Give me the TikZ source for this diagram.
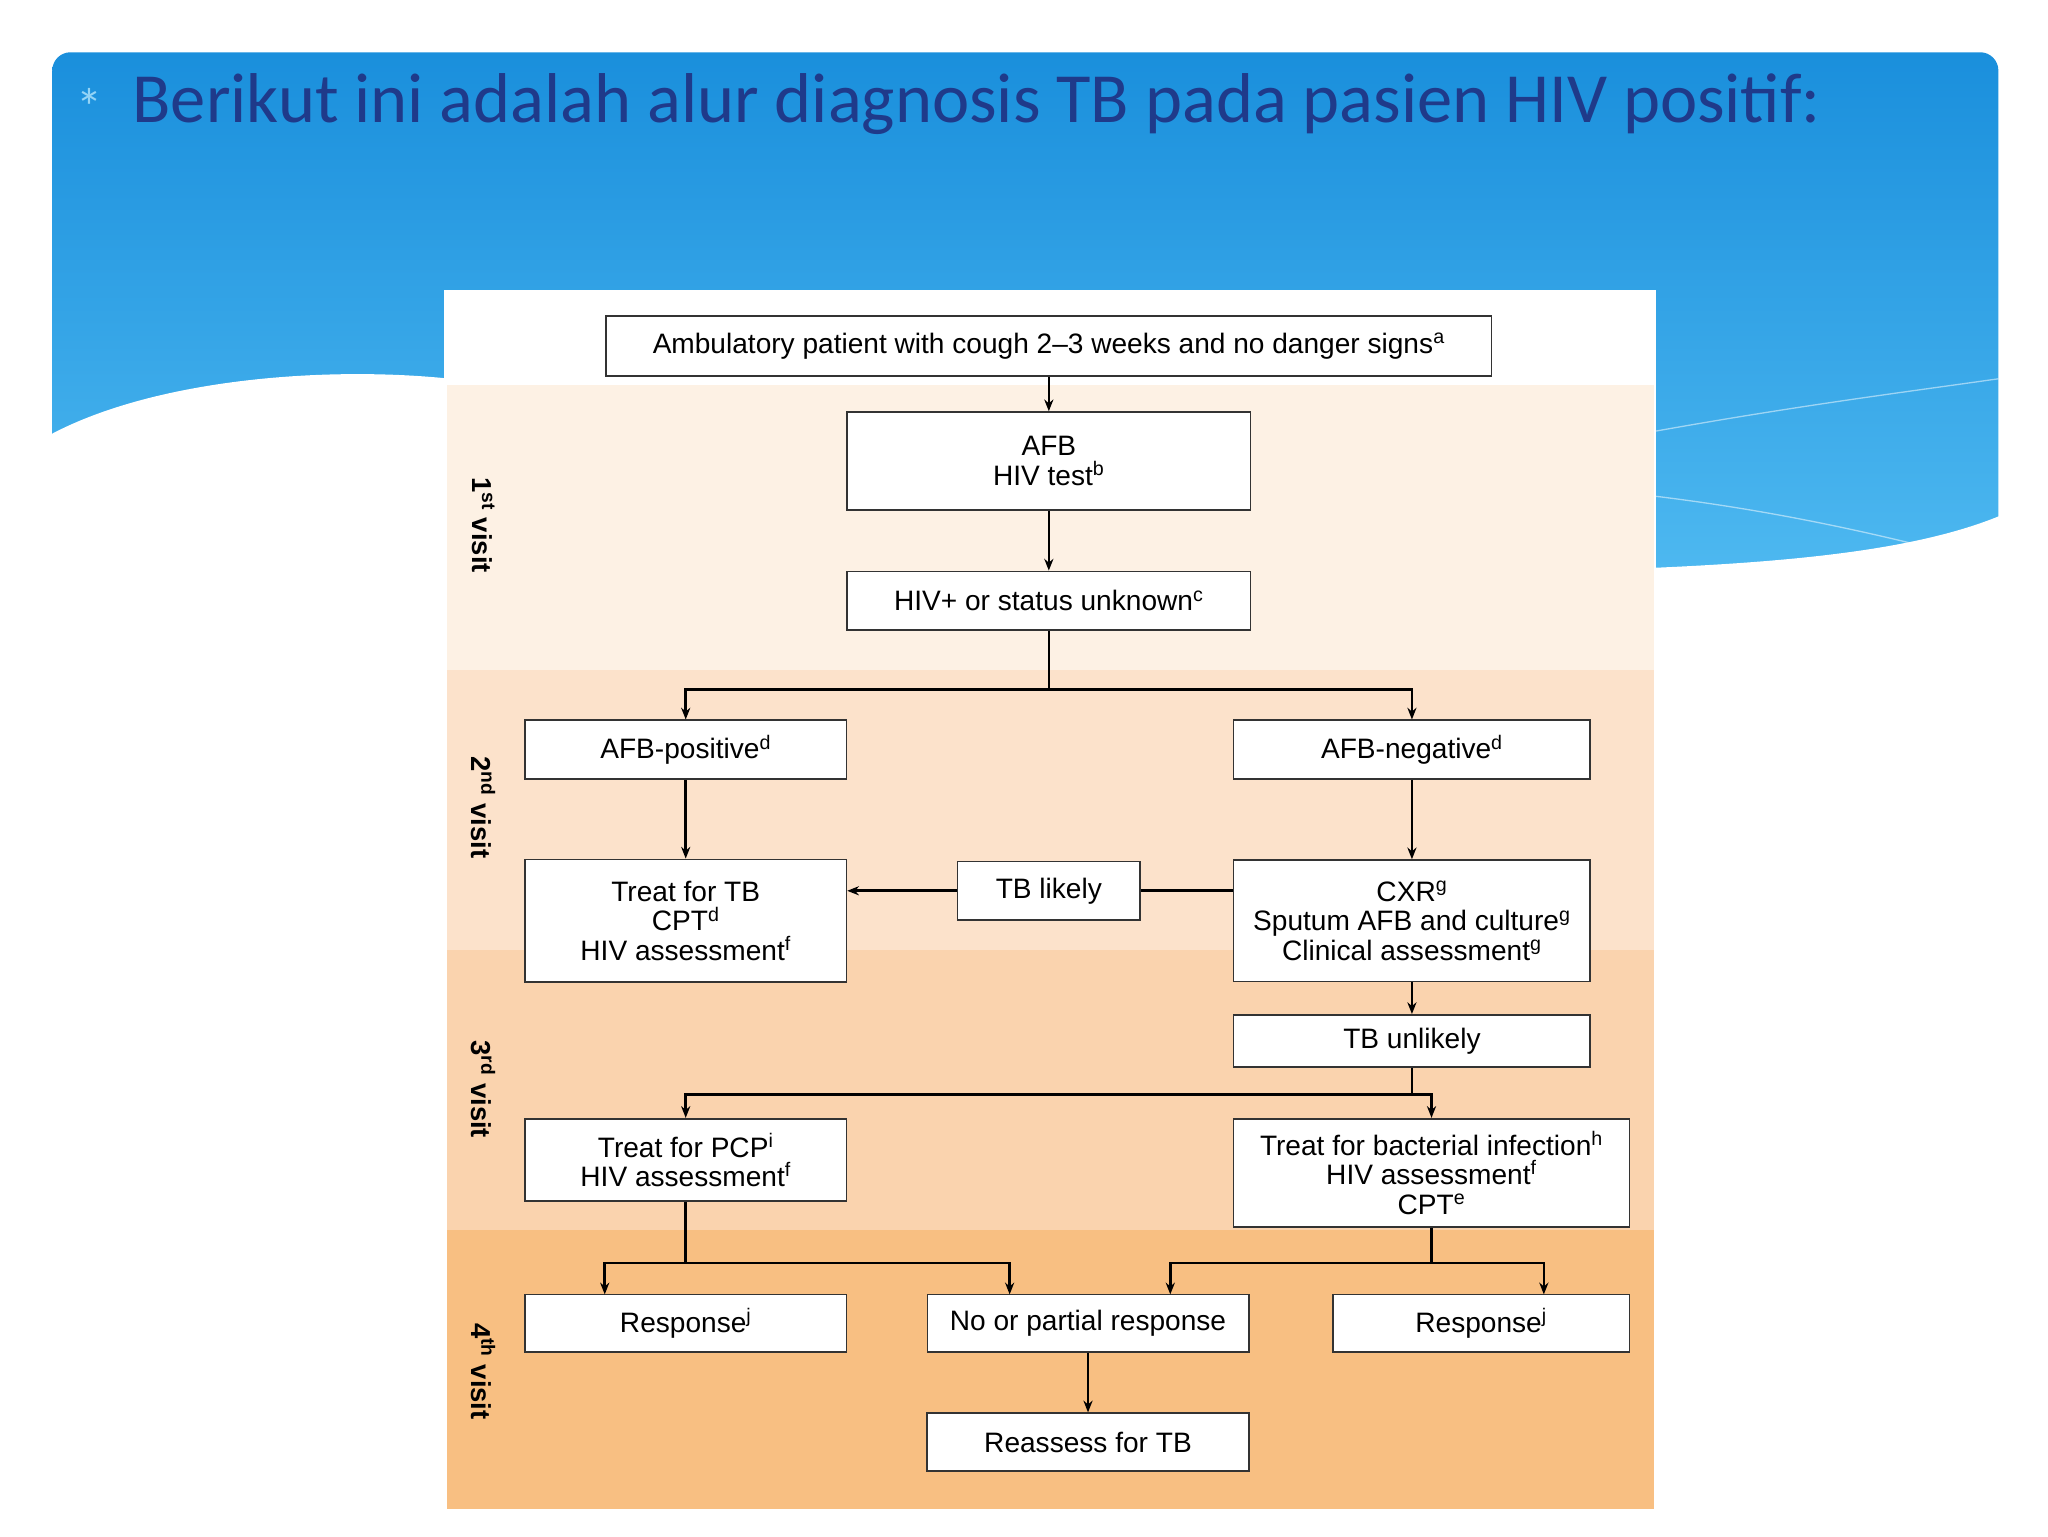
\documentclass[tikz,border=0pt]{standalone}
\usepackage{fontspec}
\setmainfont{Liberation Sans}
\newfontfamily\titlefont{Carlito}
\usetikzlibrary{arrows.meta}
\definecolor{hdrtop}{HTML}{1A8FDC}
\definecolor{hdrbot}{HTML}{4DB8F0}
\definecolor{ttl}{HTML}{1F3A8A}
\definecolor{bandA}{HTML}{FDF1E4}
\definecolor{bandB}{HTML}{FCE2CB}
\definecolor{bandC}{HTML}{FAD3AE}
\definecolor{bandD}{HTML}{F8BF82}
\begin{document}
\begin{tikzpicture}[x=1pt,y=-1pt,
  bx/.style={draw=black!80,line width=1.3pt,fill=white,align=center,font=\fontsize{21.5}{22.5}\selectfont,inner sep=0pt},
  ar/.style={line width=2pt,-{Stealth[length=9pt,width=7pt]}},
  ln/.style={line width=2pt},
  vis/.style={rotate=-90,font=\bfseries\fontsize{21}{23}\selectfont}]
\useasboundingbox (0,0) rectangle (1568,1176);
\fill[white] (0,0) rectangle (1568,1176);
% header
\shade[top color=hdrtop,bottom color=hdrbot,rounded corners=14pt] (40,40) rectangle (1530,435);
\fill[white] (40,332) .. controls (120,290) and (250,280) .. (345,290) -- (345,1176) -- (40,1176) -- cycle;
\fill[white] (1260,435) .. controls (1380,430) and (1470,420) .. (1531,395) -- (1531,1176) -- (1260,1176) -- cycle;
\draw[white,opacity=0.5,line width=1pt] (1268,330) .. controls (1380,310) and (1460,300) .. (1530,290);
\draw[white,opacity=0.5,line width=1pt] (1268,380) .. controls (1350,390) and (1420,405) .. (1480,420);
\node[anchor=west,text=hdrbot!60!white,font=\titlefont\fontsize{40}{40}\selectfont] (bul) at (55,82) {*};
\node[anchor=west,text=ttl,font=\titlefont\fontsize{54}{56}\selectfont] (title) at (98,80) {Berikut ini adalah alur diagnosis TB pada pasien HIV positif:};
% chart background
\fill[white] (340,222) rectangle (1268,1160);
\fill[bandA] (342,295) rectangle (1266,513);
\fill[bandB] (342,513) rectangle (1266,727);
\fill[bandC] (342,727) rectangle (1266,942);
\fill[bandD] (342,942) rectangle (1266,1155);
\node[vis] (v1) at (370,402) {1\textsuperscript{st} visit};
\node[vis] (v2) at (370,618) {2\textsuperscript{nd} visit};
\node[vis] (v3) at (370,834) {3\textsuperscript{rd} visit};
\node[vis] (v4) at (370,1050) {4\textsuperscript{th} visit};
% boxes
\node[bx,minimum width=678,minimum height=46] (amb) at (803,265) {Ambulatory patient with cough 2--3 weeks and no danger signs\textsuperscript{a}};
\node[bx,minimum width=309,minimum height=75] (afb) at (803,353) {AFB\\HIV test\textsuperscript{b}};
\node[bx,minimum width=309,minimum height=45] (hiv) at (803,460) {HIV+ or status unknown\textsuperscript{c}};
\node[bx,minimum width=246,minimum height=45] (afbpos) at (525,574) {AFB-positive\textsuperscript{d}};
\node[bx,minimum width=273,minimum height=45] (afbneg) at (1081,574) {AFB-negative\textsuperscript{d}};
\node[bx,minimum width=246,minimum height=94] (treattb) at (525,705) {Treat for TB\\CPT\textsuperscript{d}\\HIV assessment\textsuperscript{f}};
\node[bx,minimum width=140,minimum height=45] (tbl) at (803,682) {TB likely};
\node[bx,minimum width=273,minimum height=93] (cxr) at (1081,705) {CXR\textsuperscript{g}\\Sputum AFB and culture\textsuperscript{g}\\Clinical assessment\textsuperscript{g}};
\node[bx,minimum width=273,minimum height=40] (tbu) at (1081,797) {TB unlikely};
\node[bx,minimum width=246,minimum height=63] (pcp) at (525,888) {Treat for PCP\textsuperscript{i}\\HIV assessment\textsuperscript{f}};
\node[bx,minimum width=303,minimum height=83] (bact) at (1096,898) {Treat for bacterial infection\textsuperscript{h}\\HIV assessment\textsuperscript{f}\\CPT\textsuperscript{e}};
\node[bx,minimum width=246,minimum height=44] (r1) at (525,1013) {Response\textsuperscript{j}};
\node[bx,minimum width=246,minimum height=44] (np) at (833,1013) {No or partial response};
\node[bx,minimum width=227,minimum height=44] (r2) at (1134,1013) {Response\textsuperscript{j}};
\node[bx,minimum width=247,minimum height=44] (re) at (833,1104) {Reassess for TB};
\coordinate (j1) at (803,528);
\coordinate (j2) at (1081,838);
\coordinate (j3) at (525,967);
\coordinate (j4) at (1096,967);
% connectors
\draw[ar] (amb) -- (afb);
\draw[ar] (afb) -- (hiv);
\draw[ln] (hiv) -- (j1);
\draw[ar] (j1) -| (afbpos);
\draw[ar] (j1) -| (afbneg);
\draw[ar] (afbpos) -- (treattb);
\draw[ar] (afbneg) -- (cxr);
\draw[ln] (cxr.west |- tbl) -- (tbl);
\draw[ar] (tbl) -- (treattb.east |- tbl);
\draw[ar] (cxr) -- (tbu);
\draw[ln] (tbu) -- (j2);
\draw[ar] (j2) -| (pcp);
\draw[ar] (j2) -| (bact);
\draw[ln] (pcp) -- (j3);
\draw[ar] (j3) -| (463,991);
\draw[ar] (j3) -| (773,991);
\draw[ln] (bact) -- (j4);
\draw[ar] (j4) -| (896,991);
\draw[ar] (j4) -| (1182,991);
\draw[ar] (np) -- (re);
\end{tikzpicture}
\end{document}
